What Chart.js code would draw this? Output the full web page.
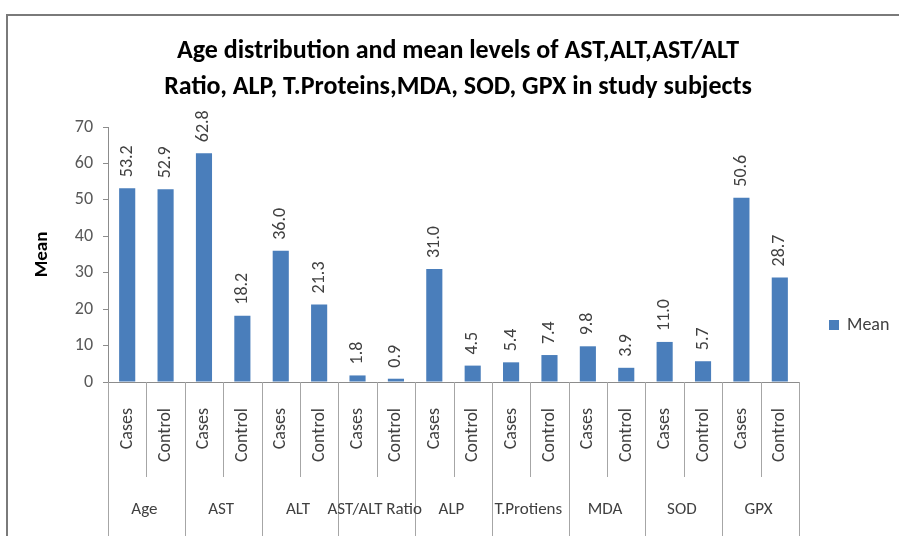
<!DOCTYPE html>
<html>
<head>
<meta charset="utf-8">
<script src="https://cdn.jsdelivr.net/npm/chart.js@4.4.1/dist/chart.umd.min.js"></script>
<style>
html,body{margin:0;padding:0;background:#fff;}
#wrap{position:relative;width:899px;height:536px;}
</style>
</head>
<body>
<div id="wrap"><canvas id="c" width="899" height="536"></canvas></div>
<script>
const titleLines = ["Age distribution and mean levels of AST,ALT,AST/ALT", "Ratio, ALP, T.Proteins,MDA, SOD, GPX in study subjects"];
const groups = ["Age", "AST", "ALT", "AST/ALT Ratio", "ALP", "T.Protiens", "MDA", "SOD", "GPX"];
const subLabels = ["Cases", "Control", "Cases", "Control", "Cases", "Control", "Cases", "Control", "Cases", "Control", "Cases", "Control", "Cases", "Control", "Cases", "Control", "Cases", "Control"];
const meanValues = [53.2, 52.9, 62.8, 18.2, 36.0, 21.3, 1.8, 0.9, 31.0, 4.5, 5.4, 7.4, 9.8, 3.9, 11.0, 5.7, 50.6, 28.7];
const seriesName = "Mean";
const yTicks = [0, 10, 20, 30, 40, 50, 60, 70];

const FONT = "Carlito, Lato, 'Liberation Sans', sans-serif";
const BLUE = "#4A7EBB";
const AXIS = "#8C8C8C";

const decor = {
  id: 'decor',
  beforeDraw(chart) {
    const ctx = chart.ctx;
    ctx.save();
    ctx.fillStyle = '#fff';
    ctx.fillRect(0, 0, chart.width, chart.height);
    // frame
    ctx.strokeStyle = '#7a7a7a';
    ctx.lineWidth = 2;
    ctx.beginPath();
    ctx.moveTo(7, 536); ctx.lineTo(7, 15); ctx.lineTo(899, 15);
    ctx.stroke();
    // title
    ctx.fillStyle = '#000';
    ctx.font = "bold 26px " + FONT;
    ctx.textAlign = 'center';
    ctx.textBaseline = 'middle';
    ctx.fillText(titleLines[0], 458, 51);
    ctx.fillText(titleLines[1], 458, 87);
    ctx.restore();
  },
  afterDraw(chart) {
    const ctx = chart.ctx;
    const xs = chart.scales.x;
    const meta = chart.getDatasetMeta(0);
    const bottom = chart.chartArea.bottom;
    ctx.save();
    // separators
    ctx.strokeStyle = '#A6A6A6';
    ctx.lineWidth = 1;
    const n = subLabels.length;
    const step = (xs.right - xs.left) / n;
    for (let i = 0; i <= n; i++) {
      const x = Math.round(xs.left + i * step) + 0.5;
      ctx.beginPath();
      ctx.moveTo(x, bottom);
      ctx.lineTo(x, i % 2 === 0 ? 536 : 477);
      ctx.stroke();
    }
    // group labels
    ctx.fillStyle = '#404040';
    ctx.font = "17px " + FONT;
    ctx.textAlign = 'center';
    ctx.textBaseline = 'middle';
    groups.forEach((g, k) => {
      const cx = (xs.getPixelForTick(2 * k) + xs.getPixelForTick(2 * k + 1)) / 2 - 2;
      ctx.fillText(g, cx, 510);
    });
    // data labels
    ctx.font = "18px " + FONT;
    ctx.textAlign = 'left';
    ctx.textBaseline = 'middle';
    meta.data.forEach((bar, i) => {
      ctx.save();
      ctx.translate(bar.x, bar.y - 11);
      ctx.rotate(-Math.PI / 2);
      ctx.fillText(meanValues[i].toFixed(1), 0, 0);
      ctx.restore();
    });
    // legend
    ctx.fillStyle = BLUE;
    ctx.fillRect(829, 320, 10, 10);
    ctx.fillStyle = '#404040';
    ctx.font = "18px " + FONT;
    ctx.textAlign = 'left';
    ctx.fillText(chart.data.datasets[0].label, 847, 325);
    ctx.restore();
  }
};

new Chart(document.getElementById('c'), {
  type: 'bar',
  data: {
    labels: subLabels,
    datasets: [{
      label: seriesName,
      data: meanValues,
      backgroundColor: BLUE,
      borderWidth: 0,
      categoryPercentage: 1,
      barPercentage: 0.42
    }]
  },
  options: {
    responsive: false,
    animation: false,
    devicePixelRatio: 1,
    layout: { padding: { left: 0, top: 127, right: 100, bottom: 0 } },
    plugins: { legend: { display: false }, title: { display: false }, tooltip: { enabled: false } },
    scales: {
      x: {
        grid: { display: false },
        border: { display: true, color: AXIS, width: 1 },
        ticks: { minRotation: 90, maxRotation: 90, padding: 18, color: '#404040', font: { family: FONT, size: 18 }, autoSkip: false },
        afterFit(s) { s.height = 154; }
      },
      y: {
        min: 0, max: 70,
        afterBuildTicks(s) { s.ticks = yTicks.map(v => ({ value: v })); },
        grid: { display: true, drawOnChartArea: false, drawTicks: true, tickLength: 5, color: AXIS },
        border: { display: true, color: AXIS, width: 1 },
        ticks: { padding: 10, color: '#595959', font: { family: FONT, size: 18 } },
        title: { display: true, text: seriesName, color: '#000', font: { family: FONT, size: 19, weight: 'bold' }, padding: { top: 31, bottom: 0 } },
        afterFit(s) { s.width = 108; }
      }
    }
  },
  plugins: [decor]
});
</script>
</body>
</html>
